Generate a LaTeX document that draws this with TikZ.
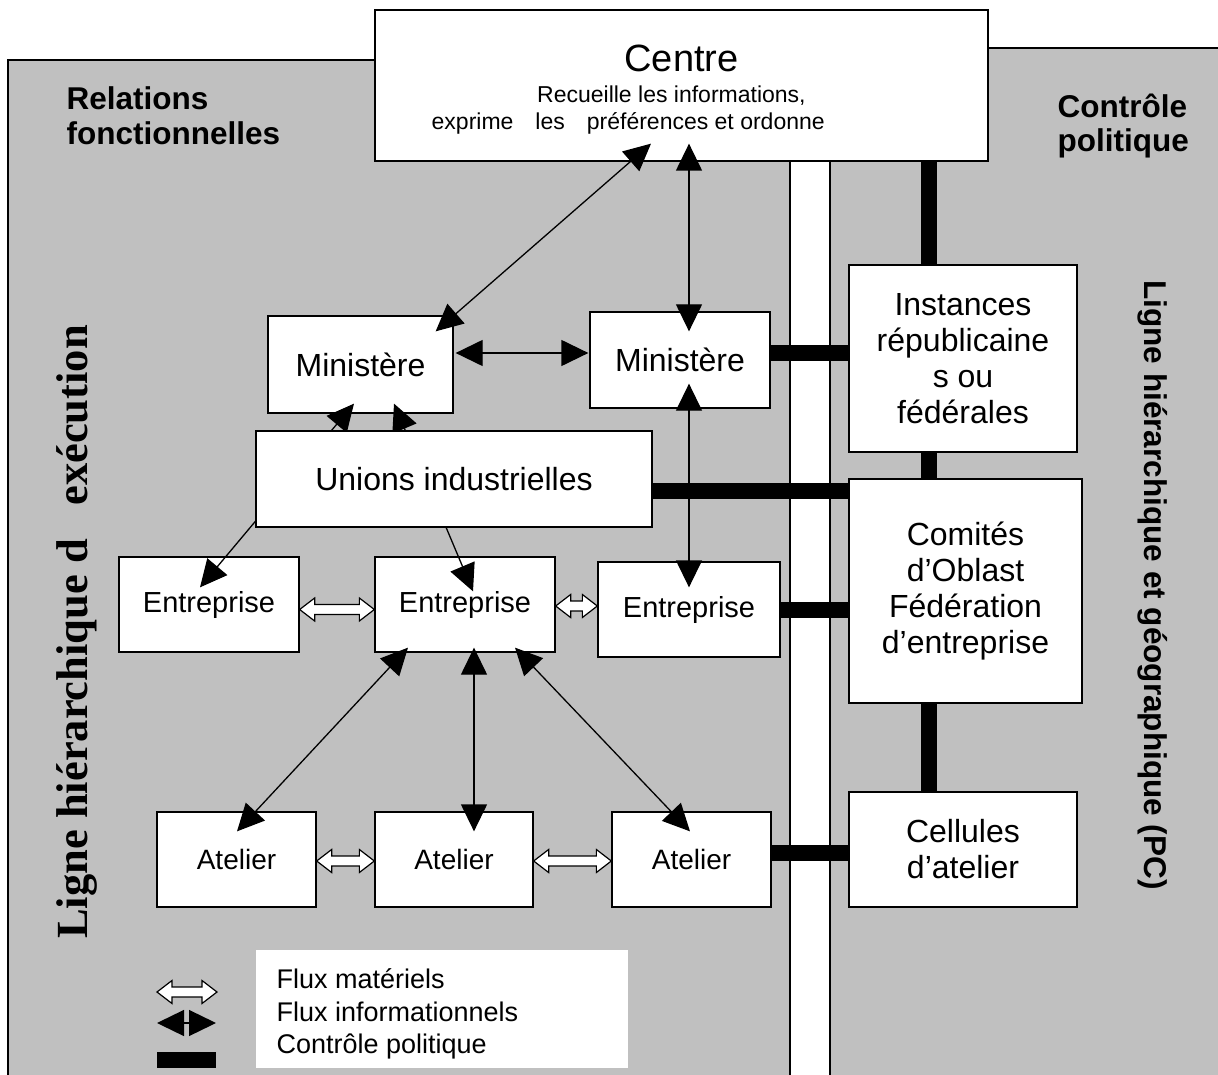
\documentclass[tikz,border=0pt]{standalone}
\usepackage{fontspec}
\setmainfont{Liberation Sans}
\newfontfamily\serifbold{Liberation Serif}
\usetikzlibrary{arrows.meta,calc}
\definecolor{panel}{RGB}{192,192,192}
\newcommand\fsz[2]{\fontsize{#1}{#2}\selectfont}
\tikzset{
 box/.style={draw, fill=white, line width=1.3pt, inner sep=0pt, align=center, anchor=center},
 info/.style={line width=1.3pt, {Triangle[length=27pt,width=26pt]}-{Triangle[length=27pt,width=26pt]}},
 pol/.style={line width=16pt},
 matstyle/.style={draw, fill=white, line width=1.2pt, line join=miter},
 panelbox/.style={draw, fill=panel, line width=1.3pt},
 ctext/.style={inner sep=0pt, font=\fsz{23}{27}, anchor=base west}
}
% hollow double arrow (material flow) between two points at the same height
\newcommand\matflow[2]{\draw[matstyle] let \p1=(#1), \p2=(#2) in
  (\x1,\y1) -- (\x1+15pt,\y1+11.5pt) -- (\x1+15pt,\y1+5pt) -- (\x2-15pt,\y1+5pt)
  -- (\x2-15pt,\y1+11.5pt) -- (\x2,\y1) -- (\x2-15pt,\y1-11.5pt) -- (\x2-15pt,\y1-5pt)
  -- (\x1+15pt,\y1-5pt) -- (\x1+15pt,\y1-11.5pt) -- cycle;}
\begin{document}
\begin{tikzpicture}[x=1pt,y=-1pt]
\useasboundingbox (0,0) rectangle (1218,1075);
\clip (0,0) rectangle (1218,1075);
% panels
\draw[panelbox] (8,60) rectangle (790,1090);
\draw[panelbox] (830,48) rectangle (1230,1090);

% boxes
\node[box, minimum width=613pt, minimum height=151pt] (centre) at (681.5,85.5) {};
\node[inner sep=0pt, font=\fsz{38}{42}, anchor=base] (ctitle) at ([shift={(0,-14)}]centre.center) {Centre};
\node[ctext] (cline1) at ([shift={(-144.5,17.5)}]centre.center) {Recueille les informations,};
\node[ctext] (cline2) at ([shift={(-250,44.5)}]centre.center)
  {exprime\hspace{22pt}les\hspace{22pt}préférences et ordonne};
\node[box, minimum width=185pt, minimum height=97pt, font=\fsz{32}{36}] (minL) at (360.5,364.5) {Ministère};
\node[box, minimum width=180pt, minimum height=96pt, font=\fsz{32}{36}] (minR) at (680,360) {Ministère};
\node[box, minimum width=180pt, minimum height=95pt, font=\fsz{29}{33}] (E1) at (209,604.5) {Entreprise};
\node[box, minimum width=180pt, minimum height=95pt, font=\fsz{29}{33}] (E2) at (465,604.5) {Entreprise};
\node[box, minimum width=182pt, minimum height=95pt, font=\fsz{29}{33}] (E3) at (689,609.5) {Entreprise};
\node[box, minimum width=159pt, minimum height=95pt, font=\fsz{28}{32}] (A1) at (236.5,859.5) {Atelier};
\node[box, minimum width=158pt, minimum height=95pt, font=\fsz{28}{32}] (A2) at (454,859.5) {Atelier};
\node[box, minimum width=159pt, minimum height=95pt, font=\fsz{28}{32}] (A3) at (691.5,859.5) {Atelier};
\node[box, minimum width=228pt, minimum height=187pt, font=\fsz{32}{36}] (inst) at (963,358.5)
  {Instances\\républicaine\\s ou\\fédérales};
\node[box, minimum width=233pt, minimum height=224pt, font=\fsz{32}{36}] (comites) at (965.5,591)
  {Comités\\d’Oblast\\Fédération\\d’entreprise};
\node[box, minimum width=228pt, minimum height=115pt, font=\fsz{32}{36}] (cell) at (963,849.5)
  {Cellules\\d’atelier};

% political control lines
\coordinate (pcx) at (929,0);
\draw[pol] (centre.south -| pcx) -- (inst.north -| pcx);
\draw[pol] (inst.south -| pcx) -- (comites.north -| pcx);
\draw[pol] (comites.south -| pcx) -- (cell.north -| pcx);
\draw[pol] ([yshift=7pt]minR.east) -- ([yshift=7pt]minR.east -| inst.west);
\draw[pol] (E3.east) -- (E3.east -| comites.west);
\draw[pol] ([yshift=6.5pt]A3.east) -- ([yshift=6.5pt]A3.east -| cell.west);

% arrows passing behind the Unions box
\draw[info] ([shift={(-9,31)}]E1.north) -- ([shift={(-6.5,-10)}]minL.south);
\draw[info] ([shift={(8,35)}]E2.north) -- ([shift={(33.5,-10)}]minL.south);

\node[box, minimum width=396pt, minimum height=96pt, font=\fsz{32}{36}] (unions) at (454,479) {Unions industrielles};
\draw[pol] ([yshift=-12pt]unions.east) -- ([yshift=-12pt]unions.east -| comites.west);

% informational flows
\draw[info] ([shift={(-30.5,-18)}]centre.south) -- ([shift={(-18,16)}]minL.north east);
\draw[info] ([shift={(7.5,-18)}]centre.south) -- ([shift={(9,20)}]minR.north);
\draw[info] ([shift={(2,-11.5)}]minL.east) -- ([shift={(-1,-7)}]minR.west);
\draw[info] ([shift={(9,-25)}]minR.south) -- ([shift={(0,26)}]E3.north);
\draw[info] ([shift={(-57,-5)}]E2.south) -- ([shift={(0.5,20)}]A1.north);
\draw[info] ([shift={(9,-5)}]E2.south) -- ([shift={(20,20)}]A2.north);
\draw[info] ([shift={(50,-5)}]E2.south) -- ([shift={(-1.5,20)}]A3.north);

% material flows
\matflow{[yshift=-5pt]E1.east}{[yshift=-5pt]E2.west}
\matflow{[yshift=-1.5pt]E2.east}{[yshift=3.5pt]E3.west}
\matflow{[yshift=-1.5pt]A1.east}{[yshift=-1.5pt]A2.west}
\matflow{[yshift=-1.5pt]A2.east}{[yshift=-1.5pt]A3.west}

% titles
\node[anchor=west, align=left, font=\bfseries\fsz{31.5}{35}] (relf) at (63,116) {Relations\\fonctionnelles};
\node[anchor=west, align=left, font=\bfseries\fsz{31.5}{34}] (cpol) at (1054,126) {Contrôle\\politique};
\node[rotate=90, font=\serifbold\bfseries\fsz{44.5}{48}] (lhe) at (77,632) {Ligne hiérarchique d\ \ \ exécution};
\node[rotate=-90, font=\bfseries\fsz{31.5}{35}] (lhg) at (1153,585) {Ligne hiérarchique et géographique (PC)};

% legend
\node[fill=white, minimum width=372pt, minimum height=118pt, inner sep=0pt] (legend) at (442,1009) {};
\node[anchor=west, align=left, font=\fsz{27}{32.5}] (legtext) at (273,1014)
  {Flux matériels\\Flux informationnels\\Contrôle politique};
\coordinate (lgm1) at (157,992);
\coordinate (lgm2) at (217,992);
\matflow{lgm1}{lgm2}
\coordinate (lgi1) at (157,1023);
\coordinate (lgi2) at (216,1023);
\draw[info] (lgi1) -- (lgi2);
\node[fill=black, minimum width=59pt, minimum height=16pt, inner sep=0pt] (lgpol) at (186.5,1060) {};
\end{tikzpicture}
\end{document}
